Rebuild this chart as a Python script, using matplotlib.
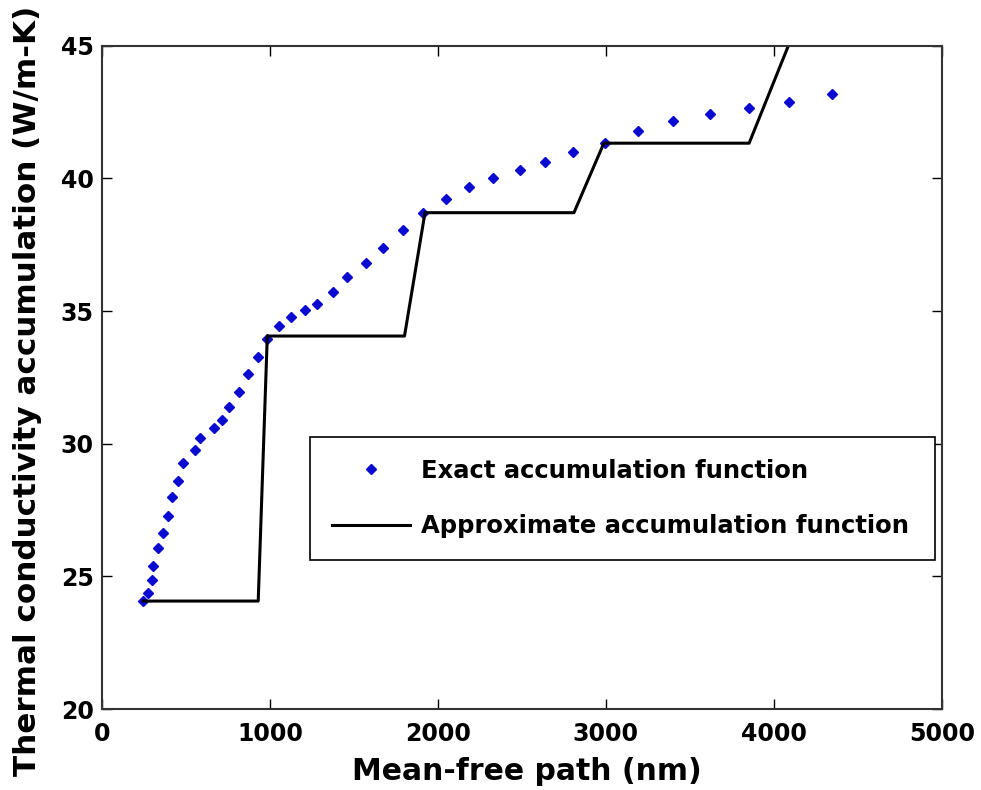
import numpy as np
import matplotlib
matplotlib.use("Agg")
from matplotlib import pyplot as plt

# exact accumulation function (mean-free path in nm, k in W/m-K)
mfp_exact = [246, 276, 296, 305, 335, 361, 391, 415, 451, 480, 554, 583, 667, 712,
             758, 815, 871, 930, 984, 1055, 1125, 1208, 1278, 1373, 1460, 1571, 1671,
             1793, 1913, 2049, 2185, 2326, 2488, 2639, 2802, 2994, 3192, 3401, 3621,
             3853, 4093, 4347]
k_exact = [24.07, 24.36, 24.86, 25.40, 26.06, 26.63, 27.29, 28.01, 28.60, 29.26,
           29.77, 30.23, 30.58, 30.90, 31.40, 31.96, 32.62, 33.26, 33.95, 34.42,
           34.77, 35.05, 35.27, 35.71, 36.30, 36.81, 37.39, 38.06, 38.71, 39.23,
           39.67, 40.03, 40.32, 40.61, 40.98, 41.35, 41.79, 42.17, 42.43, 42.65,
           42.89, 43.18]

# approximate (step) accumulation function
mfp_approx = [246, 930, 984, 1801, 1923, 2810, 2988, 3853, 4150]
k_approx = [24.07, 24.07, 34.06, 34.06, 38.71, 38.71, 41.33, 41.33, 46.0]

fig = plt.figure(figsize=(9.81, 7.90), dpi=100)
ax = fig.add_axes([0.104, 0.1025, 0.856, 0.8395])

ax.plot(mfp_exact, k_exact, linestyle='none', marker='D', markersize=5,
        color='#0a0ad0', label='Exact accumulation function')
ax.plot(mfp_approx, k_approx, color='black', linewidth=2.2,
        label='Approximate accumulation function')

ax.set_xlim(0, 5000)
ax.set_ylim(20, 45)
ax.set_xticks([0, 1000, 2000, 3000, 4000, 5000])
ax.set_yticks([20, 25, 30, 35, 40, 45])

ax.tick_params(direction='in', length=7, width=1, top=True, right=True,
               labelsize=17, pad=9)
ax.tick_params(axis='y', pad=6)
for lbl in ax.get_xticklabels() + ax.get_yticklabels():
    lbl.set_fontweight('bold')
for s in ax.spines.values():
    s.set_linewidth(1.5)
    s.set_color('#333333')

ax.set_xlabel('Mean-free path (nm)', fontsize=21.5, fontweight='bold', labelpad=9)
ax.xaxis.set_label_coords(0.506, -0.073)
ax.xaxis.label.set_va('top')
ax.set_ylabel('Thermal conductivity accumulation (W/m-K)', fontsize=22.3,
              fontweight='bold')
ax.yaxis.set_label_coords(-0.072, 0.479)

leg = ax.legend(loc='upper left', bbox_to_anchor=(0.2476, 0.2278, 0.744, 0.1825),
                mode='expand', fancybox=False, edgecolor='black', framealpha=1,
                numpoints=1, handlelength=3.2, handletextpad=0.45,
                borderpad=0.9, labelspacing=1.3, borderaxespad=0,
                prop={'size': 17.5, 'weight': 'bold'})
leg.get_frame().set_linewidth(1.2)

fig.savefig('out.png', dpi=100)
